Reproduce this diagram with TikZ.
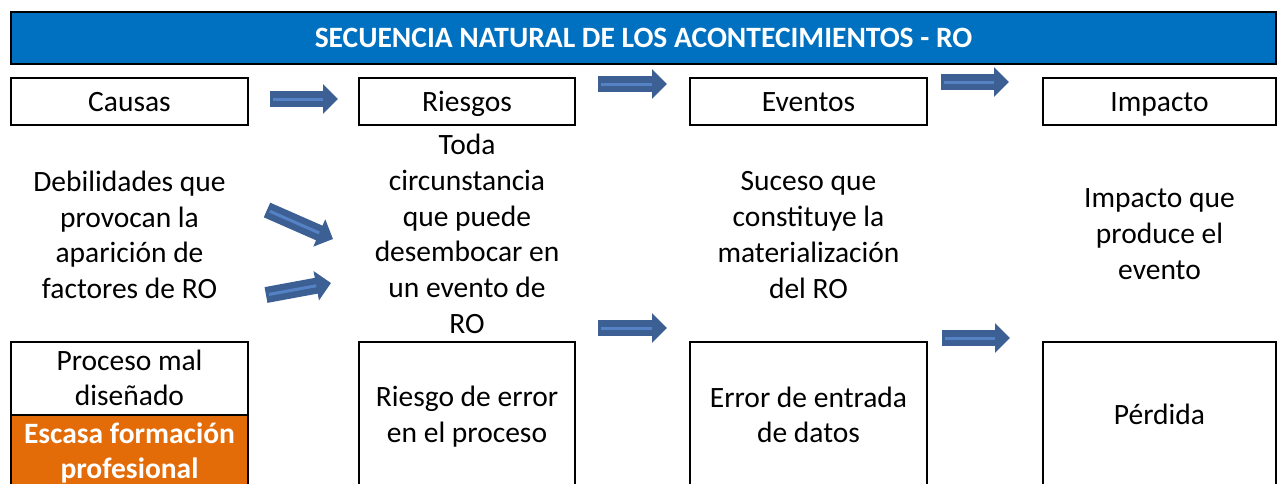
\documentclass[tikz,border=0pt]{standalone}
\usepackage{fontspec}
\setmainfont{Carlito}
\usetikzlibrary{arrows.meta}
\definecolor{hdrblue}{RGB}{0,112,192}
\definecolor{orng}{RGB}{227,108,9}
\definecolor{arrfill}{RGB}{60,96,148}
\definecolor{arrline}{RGB}{84,130,196}
\tikzset{
  box/.style={draw=black, line width=2pt, fill=white},
  txt/.style={align=center, inner sep=0pt, font=\fontsize{29.5}{35.7}\selectfont},
  one/.style={text height=24.3pt, text depth=5.3pt},
  blockarr/.style={arrfill, line width=16pt, -{Triangle[length=15pt,width=29pt]}},
  arrcore/.style={arrline, line width=3pt, shorten >=15pt, shorten <=3pt},
}
\begin{document}
\begin{tikzpicture}[x=1pt,y=-1pt]
\useasboundingbox (0,0) rectangle (1277,483);
\clip (0,0) rectangle (1277,483);
% header
\draw[box, fill=hdrblue] (11,12) rectangle (1276,64);
\node[txt, one, text=white, font=\fontsize{29.5}{35.7}\selectfont\bfseries] (hdr) at (643.5,38) {SECUENCIA NATURAL DE LOS ACONTECIMIENTOS - RO};
% top row boxes
\draw[box] (11,78) rectangle (248,125);
\node[txt, one] (causas) at (129.5,101.5) {Causas};
\draw[box] (359,78) rectangle (575,125);
\node[txt, one] (riesgos) at (467,101.5) {Riesgos};
\draw[box] (690,78) rectangle (927,125);
\node[txt, one] (eventos) at (808.5,101.5) {Eventos};
\draw[box] (1043,78) rectangle (1276,125);
\node[txt, one] (impacto) at (1159.5,101.5) {Impacto};
% middle texts
\node[txt] (dcausas) at (129.5,235) {Debilidades que\\provocan la\\aparición de\\factores de RO};
\node[txt] (driesgos) at (467,234) {Toda\\circunstancia\\que puede\\desembocar en\\un evento de\\RO};
\node[txt] (deventos) at (808.5,235) {Suceso que\\constituye la\\materialización\\del RO};
\node[txt] (dimpacto) at (1159.5,234) {Impacto que\\produce el\\evento};
% bottom boxes
\draw[box] (11,342) rectangle (248,490);
\draw[box, fill=orng] (11,415) rectangle (248,490);
\node[txt] (proceso) at (129.5,378) {Proceso mal\\diseñado};
\node[txt, text=white, font=\fontsize{29.5}{35.7}\selectfont\bfseries] (escasa) at (129.5,453) {Escasa formación\\profesional};
\draw[box] (359,342) rectangle (575,490);
\node[txt] (rerror) at (467,416.5) {Riesgo de error\\en el proceso};
\draw[box] (690,342) rectangle (927,490);
\node[txt] (eentrada) at (808.5,415) {Error de entrada\\de datos};
\draw[box] (1043,342) rectangle (1276,490);
\node[txt, one] (perdida) at (1159.5,415) {Pérdida};
% arrow coordinates
\coordinate (a1s) at (270,99);  \coordinate (a1e) at (338,99);
\coordinate (a2s) at (598,84);  \coordinate (a2e) at (667,84);
\coordinate (a3s) at (941,82);  \coordinate (a3e) at (1009,82);
\coordinate (a4s) at (267,210); \coordinate (a4e) at (333,239);
\coordinate (a5s) at (266,295); \coordinate (a5e) at (331,283);
\coordinate (a6s) at (598,328); \coordinate (a6e) at (667,328);
\coordinate (a7s) at (942,338); \coordinate (a7e) at (1010,338);
\foreach \a in {1,...,7}{
  \draw[blockarr] (a\a s) -- (a\a e);
  \draw[arrcore] (a\a s) -- (a\a e);
}
\end{tikzpicture}
\end{document}
